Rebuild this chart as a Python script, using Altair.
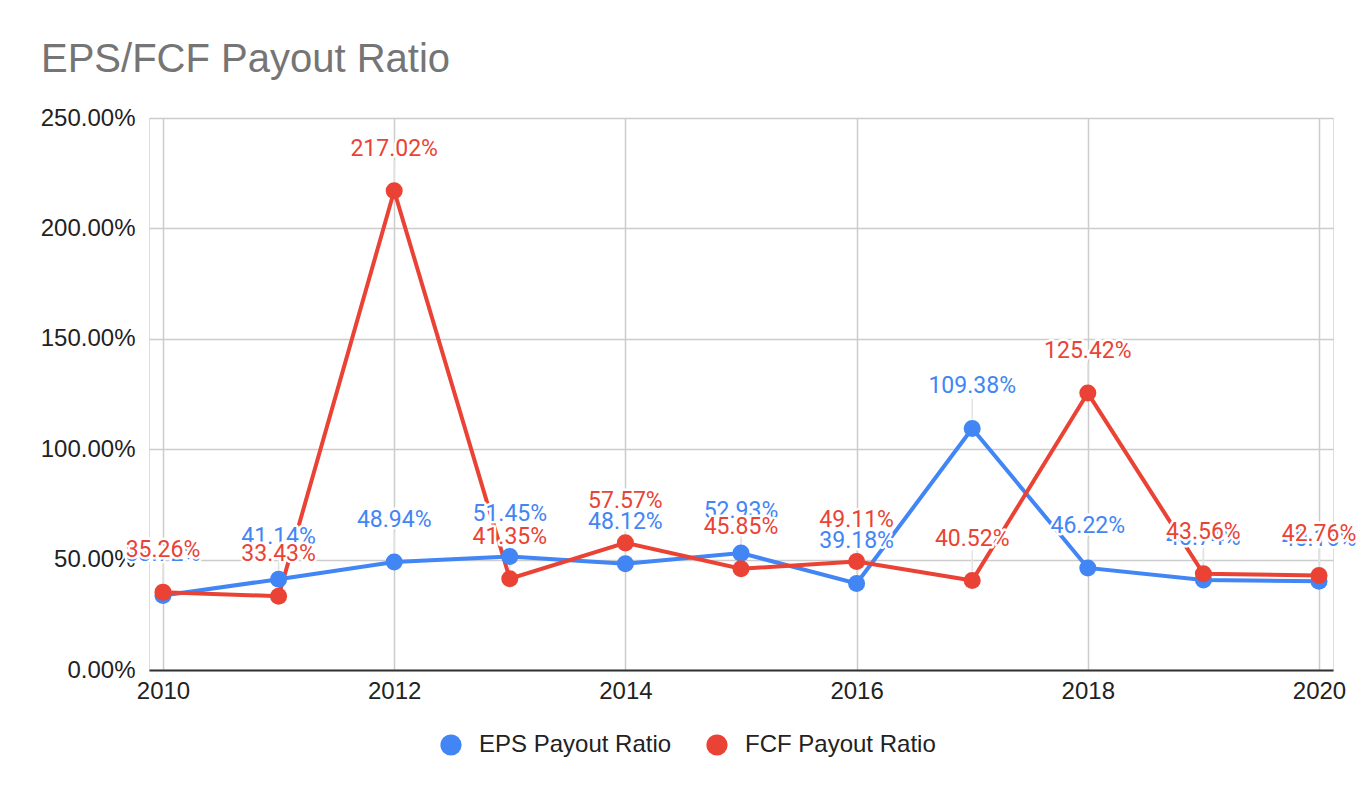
import altair as alt
import pandas as pd

years = [2010, 2011, 2012, 2013, 2014, 2015, 2016, 2017, 2018, 2019, 2020]
eps_payout = [33.72, 41.14, 48.94, 51.45, 48.12, 52.93, 39.18, 109.38, 46.22, 40.74, 40.16]
fcf_payout = [35.26, 33.43, 217.02, 41.35, 57.57, 45.85, 49.11, 40.52, 125.42, 43.56, 42.76]
series_names = ["EPS Payout Ratio", "FCF Payout Ratio"]
series_colors = ["#4285F4", "#EA4335"]
x_ticks = [2010, 2012, 2014, 2016, 2018, 2020]
y_ticks = [0, 0.5, 1.0, 1.5, 2.0, 2.5]

rows = []
for name, vals in zip(series_names, [eps_payout, fcf_payout]):
    for y, v in zip(years, vals):
        rows.append({"year": y, "value": v / 100.0, "series": name})
df = pd.DataFrame(rows)

FONT = "Liberation Sans"

x_enc = alt.X(
    "year:Q",
    scale=alt.Scale(domain=[2009.879, 2020.121], nice=False, zero=False),
    axis=alt.Axis(
        values=x_ticks, format="d", title=None, grid=True, gridColor="#cccccc",
        gridWidth=1.5, domain=True, domainColor="#333333", domainWidth=2,
        ticks=False, labelFont=FONT, labelFontSize=24, labelColor="#222222",
        labelPadding=9,
    ),
)
y_enc = alt.Y(
    "value:Q",
    scale=alt.Scale(domain=[0, 2.5], nice=False),
    axis=alt.Axis(
        values=y_ticks, format=".2%", title=None, grid=True, gridColor="#cccccc",
        gridWidth=1.5, domain=False, ticks=False, labelFont=FONT,
        labelFontSize=24, labelColor="#222222", labelPadding=14,
    ),
)

base = alt.Chart(df)

layers = []
# leader lines
layers.append(
    base.mark_rule(color="#e3e3e3", strokeWidth=1.5, yOffset=-9, y2Offset=-30)
    .encode(x=x_enc, y=y_enc, y2="value:Q")
)
# lines
for name, col in zip(series_names, series_colors):
    layers.append(
        base.transform_filter(alt.datum.series == name)
        .mark_line(color=col, strokeWidth=4)
        .encode(x=x_enc, y=y_enc)
    )
# points with legend
layers.append(
    base.mark_circle(size=290, opacity=1)
    .encode(
        x=x_enc, y=y_enc,
        color=alt.Color(
            "series:N",
            scale=alt.Scale(domain=series_names, range=series_colors),
            legend=alt.Legend(
                title=None, orient="none", legendX=290, legendY=615,
                direction="horizontal", symbolType="circle", symbolSize=450,
                symbolStrokeWidth=0, labelFont=FONT, labelFontSize=24,
                labelColor="#222222", labelOffset=16, columnPadding=33,
                labelLimit=0,
            ),
        ),
        order=alt.Order("series:N"),
    )
)
# labels with white halo
for name, col in zip(series_names, series_colors):
    sub = base.transform_filter(alt.datum.series == name)
    layers.append(
        sub.mark_text(font="Roboto", fontSize=23, dy=-42, baseline="middle",
                      stroke="white", strokeWidth=5, strokeJoin="round", fill="white")
        .encode(x=x_enc, y=y_enc, text=alt.Text("value:Q", format=".2%"))
    )
    layers.append(
        sub.mark_text(font="Roboto", fontSize=23, dy=-42, baseline="middle", color=col)
        .encode(x=x_enc, y=y_enc, text=alt.Text("value:Q", format=".2%"))
    )

chart = (
    alt.layer(*layers)
    .properties(
        width=1184,
        height=552,
        autosize=alt.AutoSizeParams(type="none"),
        padding={"left": 141, "top": 110, "right": 31, "bottom": 120},
        title=alt.TitleParams(
            "EPS/FCF Payout Ratio", anchor="start", frame="group", dx=-108,
            offset=26, font=FONT, fontSize=40, fontWeight="normal", color="#757575",
        ),
    )
    .configure_view(stroke=None)
    .configure(background="white")
)

chart.save("out.html", embed_options={"renderer": "svg", "actions": False})
